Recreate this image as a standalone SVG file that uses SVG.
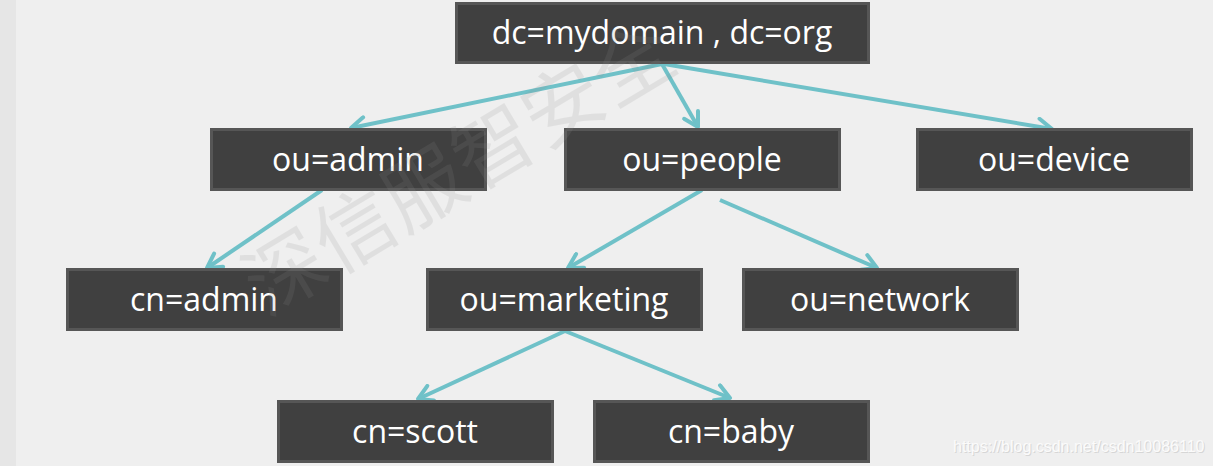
<svg xmlns="http://www.w3.org/2000/svg" width="1213" height="466" viewBox="0 0 1213 466">
<defs>
<style>
.node rect{fill:#404040;stroke:#565656;stroke-width:3}
.node text{fill:#ffffff;font-family:"Open Sans","Noto Sans",sans-serif;font-size:32px;text-anchor:middle}
.edge{stroke:#6fc1c8;stroke-width:4;fill:none;marker-end:url(#arr)}
.wm{font-family:"Noto Sans CJK SC",sans-serif;font-size:80px;fill:#8c8c8c;opacity:0.15;text-anchor:middle;dominant-baseline:central}
.url{font-family:"Liberation Sans",Arial,sans-serif;font-size:16px}
</style>
<marker id="arr" viewBox="0 0 20 20" refX="17" refY="10" markerUnits="userSpaceOnUse" markerWidth="20" markerHeight="20" orient="auto">
<path d="M3,2 L17,10 L3,18" fill="none" stroke="#6fc1c8" stroke-width="4" stroke-linecap="round" stroke-linejoin="round"/>
</marker>
</defs>
<rect x="0" y="0" width="1213" height="466" fill="#efefef"/>
<rect x="0" y="0" width="16" height="466" fill="#e6e6e6"/>
<g id="connectors">
<line class="edge" x1="662" y1="64" x2="351" y2="128"/>
<line class="edge" x1="662" y1="64" x2="698" y2="127"/>
<line class="edge" x1="664" y1="64" x2="1052" y2="129"/>
<line class="edge" x1="322" y1="190" x2="207" y2="268"/>
<line class="edge" x1="702" y1="190" x2="568" y2="268"/>
<line class="edge" x1="720" y1="200" x2="877" y2="268"/>
<line class="edge" x1="565" y1="331" x2="418" y2="399"/>
<line class="edge" x1="565" y1="331" x2="730" y2="398"/>
</g>
<g id="n-root" class="node"><rect x="456.5" y="3.5" width="412" height="59"/><text x="662" y="44">dc=mydomain , dc=org</text></g>
<g id="n-ou-admin" class="node"><rect x="211.5" y="129.5" width="274" height="60"/><text x="348" y="171">ou=admin</text></g>
<g id="n-ou-people" class="node"><rect x="565.5" y="129.5" width="274" height="60"/><text x="702" y="171">ou=people</text></g>
<g id="n-ou-device" class="node"><rect x="917.5" y="129.5" width="274" height="60"/><text x="1054" y="171">ou=device</text></g>
<g id="n-cn-admin" class="node"><rect x="67.5" y="269.5" width="274" height="60"/><text x="204" y="311">cn=admin</text></g>
<g id="n-ou-marketing" class="node"><rect x="427.5" y="269.5" width="274" height="60"/><text x="564" y="311">ou=marketing</text></g>
<g id="n-ou-network" class="node"><rect x="743.5" y="269.5" width="274" height="60"/><text x="880" y="311">ou=network</text></g>
<g id="n-cn-scott" class="node"><rect x="278.5" y="401.5" width="274" height="60"/><text x="415" y="443">cn=scott</text></g>
<g id="n-cn-baby" class="node"><rect x="594.5" y="401.5" width="274" height="60"/><text x="731" y="443">cn=baby</text></g>
<text class="wm" x="456" y="162" transform="rotate(-31 456 162)" letter-spacing="1">深信服智安全</text>
<text class="url" x="954" y="453" fill="#d6d6d6">https://blog.csdn.net/csdn10086110</text>
<text class="url" x="953" y="452" fill="#fbfbfb">https://blog.csdn.net/csdn10086110</text>
</svg>
